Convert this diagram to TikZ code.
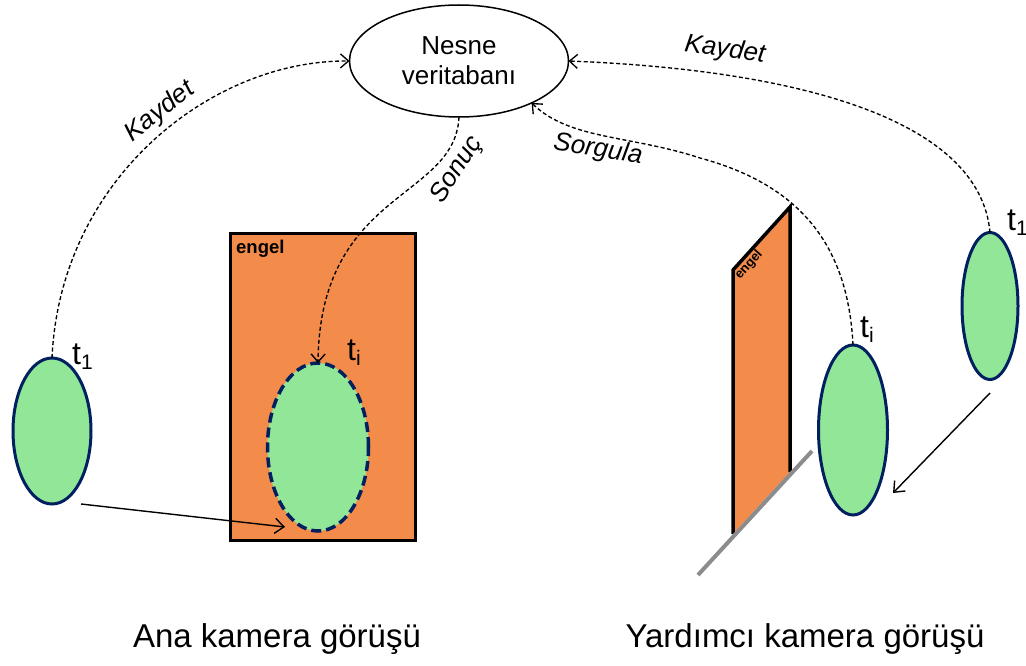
\documentclass[tikz,border=0pt]{standalone}
\usepackage{fontspec}
\setmainfont{Liberation Sans}
\usetikzlibrary{shapes.geometric,arrows.meta}

\definecolor{obstacle}{RGB}{243,139,75}
\definecolor{target}{RGB}{146,230,152}
\definecolor{rim}{RGB}{0,32,96}
\definecolor{floorline}{RGB}{140,140,140}

\begin{document}
\begin{tikzpicture}[x=1pt,y=-1pt,
  person/.style={ellipse, draw=rim, fill=target, line width=3pt, inner sep=0pt, outer sep=0pt},
  link/.style={line width=1.35pt, dash pattern=on 4pt off 2.5pt, -{Straight Barb[length=8pt,width=14pt]}},
  move/.style={line width=1.4pt, -{Straight Barb[length=9pt,width=15pt]}},
  lbl/.style={font=\fontsize{26}{30}\selectfont\itshape, inner sep=0pt},
  tlabel/.style={font=\fontsize{32}{34}\selectfont, inner sep=0pt, anchor=base west},
  caption/.style={font=\fontsize{33}{36}\selectfont, inner sep=0pt, anchor=base}
]
\useasboundingbox (0,0) rectangle (1026,666);

% object database
\node[ellipse, draw, line width=1.5pt, minimum width=219pt, minimum height=112pt,
      align=center, font=\fontsize{26}{30}\selectfont, inner sep=0pt, outer sep=0pt]
      (db) at (459,61) {Nesne\\veritabanı};

% obstacle in the main camera view
\draw[line width=3pt, fill=obstacle] (230,233) rectangle (415,540);
\node[anchor=base west, font=\fontsize{18.5}{20}\selectfont\bfseries, inner sep=0pt]
      (e1) at (236,253) {engel};

% obstacle in the auxiliary camera view
\fill[obstacle] (733,270) -- (790,207) -- (790,472) -- (733,534) -- cycle;
\draw[line width=3.5pt] (733,534) -- (733,270) -- (790,207) -- (790,472);
\draw[floorline, line width=4pt] (698,575) -- (812,451);
\node[rotate=48, font=\fontsize{13}{14}\selectfont\bfseries, inner sep=0pt]
      (e2) at (749,265) {engel};

% target positions
\node[person, minimum width=78pt, minimum height=146pt] (a1) at (52,431) {};
\node[person, line width=3.5pt, dash pattern=on 10pt off 5pt,
      minimum width=101pt, minimum height=168pt] (a2) at (318,447) {};
\node[person, minimum width=69pt, minimum height=170pt] (b2) at (853,430) {};
\node[person, minimum width=56pt, minimum height=147pt] (b1) at (990,306) {};

% time labels
\node[tlabel] (ta1) at (72,364) {t\raisebox{-5pt}{\fontsize{21}{21}\selectfont 1}};
\node[tlabel] (ta2) at (347,360) {t\raisebox{-5pt}{\fontsize{21}{21}\selectfont i}};
\node[tlabel] (tb2) at (860,337) {t\raisebox{-5pt}{\fontsize{21}{21}\selectfont i}};
\node[tlabel] (tb1) at (1007,230) {t\raisebox{-5pt}{\fontsize{21}{21}\selectfont 1}};

% database traffic
\coordinate (sq) at (700,158);
\draw[link] (a1.north) .. controls (60,180) and (210,60) .. (db.west);
\draw[link] (b1.north) .. controls (980,120) and (800,70) .. (db.east);
\draw[link] (b2.north) .. controls (848,245) and (800,185) .. (sq)
            .. controls (630,135) and (570,140) .. (db.-30);
\draw[link] (db.south) .. controls (455,200) and (320,190) .. (a2.north);

\node[lbl, rotate=38] (k1) at (160,112) {Kaydet};
\node[lbl, rotate=-8] (k2) at (725,50) {Kaydet};
\node[lbl, rotate=-9] (sg) at (598,150) {Sorgula};
\node[lbl, rotate=57] (sn) at (457,170) {Sonuç};

% motion of the target
\coordinate (m0) at (81,504);
\coordinate (m1) at (285,527);
\draw[move] (m0) -- (m1);
\coordinate (n0) at (990,393);
\coordinate (n1) at (893,493);
\draw[move] (n0) -- (n1);

% view captions
\node[caption] (cam1) at (277,647) {Ana kamera görüşü};
\node[caption] (cam2) at (805,647) {Yardımcı kamera görüşü};
\end{tikzpicture}
\end{document}
